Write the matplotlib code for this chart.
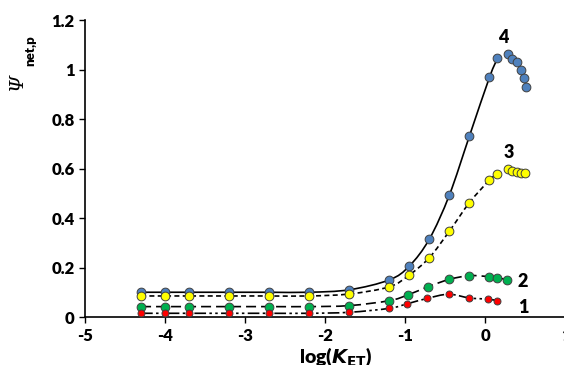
# Psi_net,p vs log(K_ET), curves 1-4
import matplotlib.pyplot as plt
from matplotlib.path import Path
from matplotlib.patches import PathPatch

plt.rcParams['font.family'] = ['Lato', 'DejaVu Sans']
plt.rcParams['font.weight'] = 'bold'

low_x = [-4.3, -4.0, -3.7, -3.2, -2.7, -2.2, -1.7]

x4 = low_x + [-1.2, -0.95, -0.7, -0.45, -0.2, 0.05, 0.15, 0.28, 0.33, 0.39, 0.44, 0.48, 0.51]
y4 = [0.10, 0.10, 0.10, 0.10, 0.10, 0.10, 0.11, 0.15, 0.206, 0.315, 0.493, 0.731, 0.968,
      1.045, 1.063, 1.042, 1.029, 0.998, 0.967, 0.928]

x3 = low_x + [-1.2, -0.95, -0.7, -0.45, -0.2, 0.05, 0.15, 0.28, 0.33, 0.39, 0.44, 0.49]
y3 = [0.085, 0.085, 0.085, 0.085, 0.085, 0.085, 0.093, 0.122, 0.17, 0.24, 0.347, 0.462,
      0.553, 0.578, 0.597, 0.591, 0.587, 0.583, 0.58]

x2 = low_x + [-1.2, -0.97, -0.72, -0.45, -0.2, 0.05, 0.15, 0.27]
y2 = [0.042, 0.042, 0.042, 0.042, 0.042, 0.042, 0.046, 0.066, 0.089, 0.122, 0.152, 0.167,
      0.163, 0.159, 0.15]

x1 = low_x + [-1.2, -0.98, -0.73, -0.46, -0.2, 0.03, 0.15]
y1 = [0.015, 0.015, 0.015, 0.015, 0.015, 0.015, 0.019, 0.035, 0.053, 0.075, 0.092, 0.077,
      0.072, 0.066]

labels = ['1', '2', '3', '4']


def smooth_path(xs, ys):
    # catmull-rom style bezier, like excel smoothed lines
    pts = list(zip(xs, ys))
    verts = [pts[0]]
    codes = [Path.MOVETO]
    n = len(pts)
    for i in range(n - 1):
        p0 = pts[i - 1] if i > 0 else pts[i]
        p1 = pts[i]
        p2 = pts[i + 1]
        p3 = pts[i + 2] if i + 2 < n else pts[i + 1]
        c1 = (p1[0] + (p2[0] - p0[0]) / 6, p1[1] + (p2[1] - p0[1]) / 6)
        c2 = (p2[0] - (p3[0] - p1[0]) / 6, p2[1] - (p3[1] - p1[1]) / 6)
        verts += [c1, c2, p2]
        codes += [Path.CURVE4] * 3
    return Path(verts, codes)


fig = plt.figure(figsize=(5.64, 3.65), dpi=100)
ax = fig.add_axes([0.1507, 0.1315, 0.852, 0.8137])

series = [
    (x4, y4, 14, '#4f81bd', '-', 6.3),
    (x3, y3, 14, '#ffff00', (0, (3, 2)), 6.3),
    (x2, y2, len(x2), '#00b050', (0, (6, 3)), 6.3),
    (x1, y1, len(x1), '#ff0000', (0, (7, 2, 1.5, 2, 1.5, 2)), 5),
]

for xs, ys, nline, color, ls, ms in series:
    patch = PathPatch(smooth_path(xs[:nline], ys[:nline]), facecolor='none',
                      edgecolor='black', lw=1.2, linestyle=ls, zorder=2)
    ax.add_patch(patch)
    ax.plot(xs, ys, 'o', color=color, markersize=ms, markeredgecolor='#404040',
            markeredgewidth=0.7, zorder=3)

ax.text(0.22, 1.13, labels[3], fontsize=13, fontweight='heavy', ha='center', va='center')
ax.text(0.29, 0.665, labels[2], fontsize=13, fontweight='heavy', ha='center', va='center')
ax.text(0.46, 0.143, labels[1], fontsize=13, fontweight='heavy', ha='center', va='center')
ax.text(0.47, 0.04, labels[0], fontsize=13, fontweight='heavy', ha='center', va='center')

ax.set_xlim(-5, 1)
ax.set_ylim(0, 1.2)
ax.set_xticks([-5, -4, -3, -2, -1, 0, 1])
ax.set_xticklabels(['-5', '-4', '-3', '-2', '-1', '0', '1'], fontweight='heavy', fontsize=12)
ax.set_yticks([0, 0.2, 0.4, 0.6, 0.8, 1.0, 1.2])
ax.set_yticklabels(['0', '0.2', '0.4', '0.6', '0.8', '1', '1.2'], fontweight='heavy', fontsize=12)
ax.tick_params(direction='out', length=4, width=1)
ax.tick_params(axis='x', pad=4)
ax.spines['top'].set_visible(False)
ax.spines['right'].set_visible(False)
ax.spines['left'].set_linewidth(1.2)
ax.spines['bottom'].set_linewidth(1.2)

fig.text(0.596, 2 / 365, r'log($\boldsymbol{K}_{\mathbf{ET}}$)', fontsize=14,
         fontweight='heavy', ha='center', va='baseline')
fig.text(17 / 564, 1 - 81 / 365, 'Ψ', family='DejaVu Serif', style='italic',
         fontweight='normal', fontsize=14, rotation=90, ha='center', va='center')
fig.text(30 / 564, 1 - 51 / 365, 'net,p', fontsize=9.5, fontweight='heavy',
         rotation=90, ha='center', va='center')

fig.savefig('out.png', dpi=100)
